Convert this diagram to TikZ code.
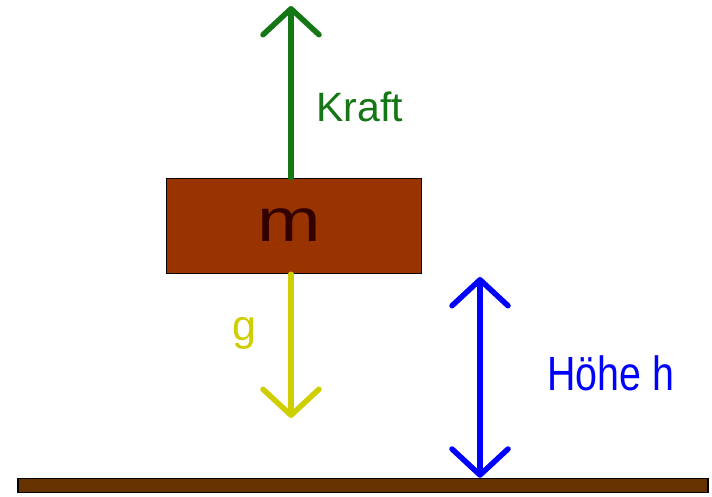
\documentclass[tikz,border=0pt]{standalone}
\usepackage{fontspec}
\setmainfont{Liberation Sans}
\usetikzlibrary{calc, positioning, arrows.meta}
\definecolor{forceGreen}{RGB}{20, 118, 20}
\definecolor{gravYellow}{RGB}{206, 206, 0}
\definecolor{heightBlue}{RGB}{0, 0, 255}
\definecolor{massBrown}{RGB}{153, 51, 0}
\definecolor{groundBrown}{RGB}{102, 51, 0}
\definecolor{massText}{RGB}{51, 0, 0}

\begin{document}
\begin{tikzpicture}[x=1pt, y=-1pt,
    barbtip/.tip={Straight Barb[length=26pt, width=56pt, round]},
    barb/.style={line width=5.5pt, line cap=round, -barbtip},
    lbl/.style={inner sep=0pt, anchor=base west}]
  \useasboundingbox (0,0) rectangle (712,497);
  % Ground
  \node[draw=black, line width=1.5pt, fill=groundBrown, minimum width=690pt,
        minimum height=14pt, inner sep=0pt] (ground) at (363,485.5) {};
  % Mass
  \node[draw=black, line width=1.5pt, fill=massBrown, minimum width=255pt,
        minimum height=95pt, inner sep=0pt] (mass) at (294,226) {};
  \node[inner sep=0pt, anchor=base, text=massText, font=\fontsize{61}{61}\selectfont]
        (mlbl) at (289,241) {\scalebox{1.25}[1]{m}};
  % Force up
  \coordinate (kraftTip) at (291,6);
  \draw[barb, draw=forceGreen] (kraftTip |- mass.north) -- (kraftTip);
  \node[lbl, text=forceGreen, font=\fontsize{41}{41}\selectfont] (kraft) at (316,122) {Kraft};
  % Gravity down
  \coordinate (gravTip) at (291,418);
  \draw[barb, draw=gravYellow] (gravTip |- mass.south) -- (gravTip);
  \node[lbl, text=gravYellow, font=\fontsize{43}{43}\selectfont] (grav) at (232,340) {g};
  % Height
  \coordinate (hTop) at (480,277);
  \draw[barb, barbtip-barbtip, draw=heightBlue] (hTop |- ground.north) -- (hTop);
  \node[lbl, text=heightBlue, font=\fontsize{48}{48}\selectfont] (hoehe) at (547,390)
        {\scalebox{0.82}[1]{Höhe h}};
\end{tikzpicture}
\end{document}
